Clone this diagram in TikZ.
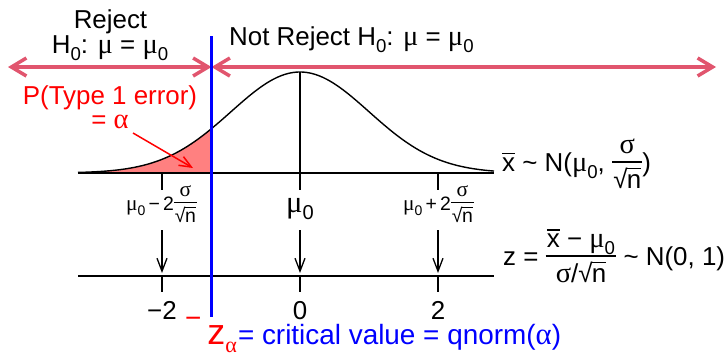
\documentclass[tikz,border=0pt]{standalone}
\usepackage{fontspec}
\usepackage{graphicx}
\setmainfont{Liberation Sans}
\newfontfamily\grk[Scale=1.1]{Liberation Serif}
\usetikzlibrary{arrows.meta}
\definecolor{pinkline}{RGB}{225,85,110}
\definecolor{salmonfill}{RGB}{255,128,128}
\newcommand\Gm{{\grk μ}}
\newcommand\Gs{{\grk σ}}
\newcommand\Ga{{\grk α}}
\newcommand\sub[1]{\raisebox{-0.28em}{\scalebox{0.72}{#1}}}
\newcommand\xbar{\vbox{\hrule height 0.05em\kern0.12em\hbox{x}}}
\newdimen\rtdim
\newcommand\rt[1]{\setbox0\hbox{#1}\rtdim=\fontcharht\font`√\relax\advance\rtdim by -\ht0\advance\rtdim by -0.05em √\kern-0.03em\vbox{\hrule height 0.05em\kern\rtdim\box0}}
\newcommand\fr[2]{$\vcenter{\hbox{\setlength\arrayrulewidth{0.05em}\begin{tabular}{@{\kern0.05em}c@{\kern0.05em}}#1\\[-0.05em]\hline\rule{0pt}{1.0em}#2\end{tabular}}}$}
\begin{document}
\begin{tikzpicture}[x=1bp,y=-1bp,
  txt/.style={inner sep=0pt, font=\fontsize{26}{31}\selectfont},
  smalltxt/.style={inner sep=0pt, font=\fontsize{19.5}{23}\selectfont},
  axisline/.style={line width=1.6bp},
  curveline/.style={line width=1.4bp},
  regionarrow/.style={pinkline, line width=3.5bp, {Straight Barb[length=15bp,width=18bp]}-{Straight Barb[length=15bp,width=18bp]}},
  downarrow/.style={line width=1.3bp, -{Straight Barb[length=13bp,width=10bp]}},
]
\useasboundingbox (0,0) rectangle (724,356);
% coordinates
\coordinate (a1l) at (78,173);
\coordinate (a1r) at (494,173);
\coordinate (a2l) at (78,276);
\coordinate (a2r) at (494,276);
\coordinate (peak) at (300,72);
\coordinate (m0) at (300,173);
\coordinate (cvtop) at (211.5,36);
\coordinate (cvbot) at (211.5,317);
\coordinate (cvmid) at (211.5,67);
\coordinate (lend) at (8,67);
\coordinate (rend) at (716,67);
% shaded tail
\fill[salmonfill] (a1l) -- plot[domain=78:211.5, samples=60] (\x, {173-101*exp(-0.5*pow((\x-300)/69,2))}) -- (211.5,173) -- cycle;
% curve
\draw[curveline] plot[domain=78:494, samples=150] (\x, {173-101*exp(-0.5*pow((\x-300)/69,2))});
\draw[curveline] (m0) -- (peak);
% axes
\draw[axisline] (a1l) -- (a1r);
\draw[axisline] (a2l) -- (a2r);
\foreach \p/\n in {162/a, 300/b, 438/c}{
  \coordinate (t1\n) at (\p,173);
  \coordinate (t1\n e) at (\p,190);
  \coordinate (t2\n) at (\p,276);
  \coordinate (t2\n e) at (\p,292);
  \coordinate (d\n s) at (\p,230);
  \coordinate (d\n e) at (\p,273);
  \draw[axisline] (t1\n) -- (t1\n e);
  \draw[axisline] (t2\n) -- (t2\n e);
  \draw[downarrow] (d\n s) -- (d\n e);
}
% region arrows
\draw[regionarrow] (lend) -- (cvmid);
\draw[regionarrow] (cvmid) -- (rend);
% critical value line
\draw[blue, line width=3.5bp] (cvtop) -- (cvbot);
% red arrow
\coordinate (ras) at (133,133);
\coordinate (rae) at (193,168);
\draw[red, line width=1.5bp, -{Straight Barb[length=12bp,width=10bp]}] (ras) -- (rae);
% texts
\node[txt, anchor=base] (rej) at (110.5,28) {Reject};
\node[txt, anchor=base] (rejh) at (110,53) {H\sub{0}: \Gm{} = \Gm\sub{0}};
\node[txt, anchor=base west] (nrej) at (229,45) {Not Reject H\sub{0}: \Gm{} = \Gm\sub{0}};
\node[txt, anchor=base, text=red] (pt1) at (110,104) {P(Type 1 error)};
\node[txt, anchor=base, text=red] (eqa) at (110,128) {= \Ga};
\node[txt, anchor=base west] (xdist) at (502,171) {\xbar{} \textasciitilde{} N(\Gm\sub{0}, \fr{\Gs}{\rt{n}})};
\node[txt, anchor=base west] (zdist) at (503,265) {z = \fr{\xbar{} − \Gm\sub{0}}{\Gs/\rt{n}} \textasciitilde{} N(0, 1)};
\node[smalltxt, anchor=base] (lm) at (161.5,210) {\Gm\sub{0}\,−\,2\fr{\Gs}{\rt{n}}};
\node[smalltxt, anchor=base] (lp) at (438.5,210) {\Gm\sub{0}\,+\,2\fr{\Gs}{\rt{n}}};
\node[inner sep=0pt, font=\fontsize{28}{32}\selectfont, anchor=base] (mu0) at (300,212) {\Gm\sub{0}};
\node[txt, anchor=base] (zm2) at (162,319) {−2};
\node[txt, anchor=base] (z0) at (300,319) {0};
\node[txt, anchor=base] (zp2) at (438,319) {2};
\node[inner sep=0pt, font=\fontsize{28}{32}\selectfont, anchor=base west] (crit) at (185,344.5) {{\color{red}\raisebox{0.6em}{−}\kern6bp{\fontsize{36}{40}\selectfont z}\sub{\Ga}}\kern1bp{\color{blue}= critical value = qnorm(\Ga)}};
\end{tikzpicture}
\end{document}
